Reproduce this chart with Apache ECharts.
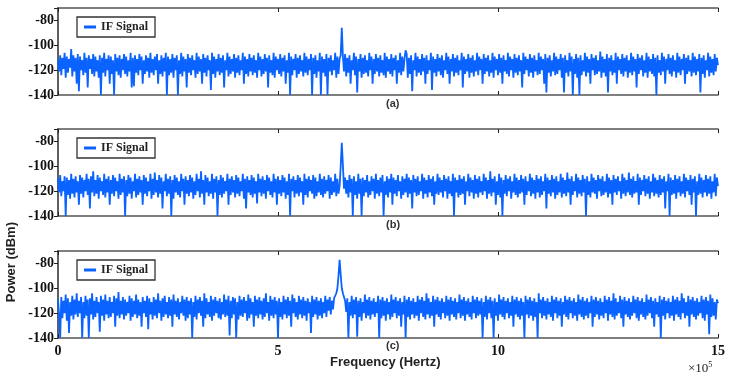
<!DOCTYPE html>
<html lang="en">
<head>
    <meta charset="UTF-8">
    <title>IF Signal spectrum</title>
    <script src="https://cdn.jsdelivr.net/npm/echarts@6/dist/echarts.min.js"></script>
    <style>
        html, body { margin: 0; padding: 0; background: #fff; }
    </style>
</head>
<body>
<div id="main" style="width: 730px;height:379px;"></div>
<script>
    // frequency grid: one sample every 0.025 (x10^5 Hz), 0 .. 15
    var freqStep = 0.025;
    var xTicks = [0, 5, 10, 15];
    var yTicks = [-140, -120, -100, -80];
    var captions = ['(a)', '(b)', '(c)'];

    // power (dBm)
    var powerA = [
        -112,-121,-108,-124,-110,-119,-106,-126,-109,-122,-111,-118,-103,-125,-108,-121,-110,-131,-107,-137,
        -109,-120,-112,-124,-106,-122,-110,-134,-108,-119,-111,-123,-107,-125,-109,-121,-112,-126,-108,-140,
        -110,-122,-106,-125,-111,-120,-108,-131,-109,-123,-112,-140,-107,-121,-110,-124,-108,-126,-111,-120,
        -107,-123,-109,-125,-112,-121,-106,-134,-110,-133,-108,-122,-111,-124,-107,-120,-109,-131,-112,-123,
        -108,-121,-110,-126,-106,-122,-111,-124,-109,-120,-107,-131,-112,-123,-108,-125,-110,-121,-106,-140,
        -109,-124,-111,-122,-107,-126,-110,-120,-108,-140,-112,-123,-106,-125,-109,-121,-111,-134,-107,-122,
        -110,-124,-108,-120,-112,-126,-106,-123,-109,-121,-111,-131,-107,-122,-110,-125,-108,-120,-112,-136,
        -106,-123,-109,-126,-111,-121,-107,-124,-110,-122,-108,-134,-112,-120,-106,-125,-109,-123,-111,-121,
        -107,-126,-110,-122,-108,-124,-112,-120,-106,-131,-109,-123,-111,-125,-107,-121,-110,-124,-108,-122,
        -112,-126,-106,-120,-109,-125,-111,-123,-107,-121,-110,-134,-108,-122,-112,-124,-106,-126,-109,-120,
        -111,-123,-107,-125,-110,-121,-108,-131,-112,-122,-106,-140,-109,-124,-111,-120,-107,-126,-110,-123,
        -108,-121,-112,-125,-106,-122,-109,-124,-111,-120,-107,-140,-110,-123,-108,-126,-112,-121,-106,-140,
        -109,-122,-111,-125,-107,-140,-110,-121,-108,-124,-112,-120,-106,-126,-109,-123,-111,-108,-86,-109,
        -121,-107,-125,-110,-122,-108,-131,-112,-120,-106,-124,-109,-138,-111,-121,-107,-126,-110,-123,-108,
        -122,-112,-125,-106,-120,-109,-131,-111,-123,-107,-121,-110,-125,-108,-122,-112,-124,-106,-126,-109,
        -121,-111,-123,-107,-125,-110,-120,-108,-131,-112,-122,-106,-124,-109,-121,-111,-104,-107,-126,-110,
        -123,-108,-137,-112,-120,-106,-125,-109,-122,-111,-124,-107,-121,-110,-131,-108,-123,-112,-120,-106,
        -136,-109,-122,-111,-125,-107,-121,-110,-124,-108,-126,-112,-120,-106,-123,-109,-131,-111,-121,-107,
        -125,-110,-122,-108,-124,-112,-120,-106,-134,-109,-123,-111,-121,-107,-126,-110,-122,-108,-125,-112,
        -121,-106,-124,-109,-120,-111,-131,-107,-123,-110,-121,-108,-125,-112,-122,-106,-126,-109,-120,-111,
        -124,-107,-122,-110,-131,-108,-121,-112,-123,-106,-125,-109,-120,-111,-126,-107,-122,-110,-124,-108,
        -121,-112,-134,-106,-123,-109,-120,-111,-125,-107,-122,-110,-126,-108,-121,-112,-124,-106,-123,-109,
        -120,-111,-131,-107,-138,-110,-122,-108,-125,-112,-121,-106,-124,-109,-123,-111,-120,-107,-126,-110,
        -138,-108,-122,-112,-125,-106,-121,-109,-140,-111,-123,-107,-126,-110,-140,-108,-124,-112,-121,-106,
        -125,-109,-122,-111,-131,-107,-120,-110,-124,-108,-123,-112,-121,-105,-126,-109,-122,-111,-125,-107,
        -138,-110,-121,-108,-124,-112,-122,-106,-131,-109,-120,-111,-123,-107,-125,-110,-121,-108,-126,-112,
        -122,-106,-124,-109,-121,-111,-134,-107,-123,-110,-120,-108,-125,-112,-122,-106,-126,-109,-121,-111,
        -123,-107,-125,-110,-140,-108,-122,-112,-124,-106,-121,-109,-131,-111,-120,-107,-123,-110,-125,-108,
        -121,-112,-126,-106,-122,-109,-124,-111,-120,-107,-131,-110,-123,-108,-121,-112,-125,-106,-122,-109,
        -124,-111,-121,-107,-138,-110,-123,-108,-126,-112,-120,-106,-125,-109,-122,-111,-124,-107,-121,-110,
        -116
    ];

    // power (dBm)
    var powerB = [
        -110,-121,-107,-124,-112,-120,-108,-140,-109,-123,-111,-126,-106,-122,-110,-125,-108,-121,-112,-131,
        -107,-122,-109,-125,-111,-120,-106,-123,-110,-134,-108,-121,-104,-124,-111,-122,-107,-126,-109,-120,
        -112,-123,-106,-125,-110,-121,-108,-131,-111,-122,-107,-124,-109,-120,-112,-126,-106,-123,-110,-121,
        -108,-140,-111,-124,-107,-122,-109,-126,-112,-120,-106,-125,-110,-123,-108,-121,-111,-131,-107,-122,
        -109,-124,-112,-120,-106,-126,-110,-123,-105,-121,-111,-125,-107,-122,-109,-134,-112,-120,-106,-124,
        -110,-122,-108,-140,-111,-126,-107,-121,-109,-123,-112,-125,-106,-120,-110,-131,-108,-122,-111,-124,
        -107,-121,-109,-126,-112,-123,-106,-120,-110,-125,-104,-122,-111,-131,-107,-121,-109,-124,-112,-122,
        -106,-126,-110,-121,-108,-140,-111,-123,-107,-125,-109,-122,-112,-120,-106,-131,-110,-123,-108,-121,
        -111,-125,-107,-122,-109,-124,-112,-120,-106,-126,-110,-134,-108,-121,-111,-123,-107,-125,-109,-122,
        -112,-130,-106,-121,-110,-124,-108,-122,-111,-126,-107,-120,-109,-123,-112,-125,-106,-121,-110,-131,
        -108,-122,-111,-124,-107,-121,-109,-126,-112,-123,-106,-140,-110,-120,-108,-125,-111,-122,-107,-124,
        -109,-121,-112,-131,-106,-123,-110,-125,-108,-120,-111,-122,-107,-126,-109,-124,-112,-121,-106,-123,
        -110,-125,-108,-122,-111,-120,-107,-126,-109,-123,-112,-121,-106,-124,-110,-122,-116,-100,-81,-99,
        -118,-109,-122,-111,-125,-107,-121,-110,-140,-108,-123,-112,-126,-106,-122,-110,-140,-109,-124,-111,
        -121,-107,-125,-112,-123,-108,-120,-110,-126,-106,-122,-111,-124,-109,-121,-107,-140,-112,-123,-108,
        -125,-110,-121,-106,-131,-109,-122,-111,-124,-107,-120,-112,-126,-108,-123,-110,-121,-106,-125,-109,
        -122,-111,-134,-107,-121,-110,-124,-108,-123,-112,-120,-106,-126,-109,-122,-111,-125,-107,-121,-110,
        -124,-108,-131,-112,-122,-106,-123,-109,-121,-111,-125,-107,-120,-110,-126,-108,-122,-112,-124,-106,
        -140,-109,-121,-111,-125,-107,-123,-110,-122,-108,-131,-112,-120,-106,-124,-109,-121,-111,-126,-107,
        -122,-110,-125,-108,-121,-112,-123,-106,-120,-109,-126,-111,-122,-104,-124,-110,-121,-108,-131,-112,
        -123,-106,-125,-109,-140,-111,-122,-107,-124,-110,-120,-108,-126,-112,-121,-106,-123,-109,-125,-111,
        -122,-107,-121,-110,-131,-108,-123,-112,-120,-106,-124,-109,-122,-111,-126,-107,-121,-110,-125,-108,
        -123,-112,-120,-106,-134,-109,-122,-111,-124,-107,-121,-110,-126,-108,-123,-112,-121,-106,-125,-109,
        -122,-111,-124,-105,-121,-110,-131,-108,-123,-112,-120,-106,-125,-109,-122,-111,-124,-107,-121,-110,
        -140,-108,-123,-112,-125,-106,-121,-109,-122,-111,-126,-107,-120,-110,-124,-108,-123,-112,-121,-106,
        -125,-109,-122,-111,-131,-107,-121,-110,-123,-108,-120,-112,-126,-106,-122,-109,-124,-111,-121,-105,
        -123,-110,-125,-108,-122,-112,-121,-106,-131,-109,-123,-111,-120,-107,-124,-110,-122,-108,-126,-112,
        -121,-106,-124,-109,-122,-111,-125,-107,-123,-110,-121,-108,-134,-112,-120,-106,-140,-109,-123,-111,
        -122,-107,-126,-110,-121,-108,-124,-112,-122,-106,-125,-109,-120,-111,-123,-107,-131,-110,-121,-108,
        -140,-112,-123,-106,-122,-109,-125,-111,-121,-107,-124,-110,-122,-108,-126,-112,-121,-106,-124,-109,
        -116
    ];

    // power (dBm)
    var powerC = [
        -109,-121,-140,-107,-124,-110,-120,-105,-126,-108,-136,-111,-122,-106,-125,-109,-121,-104,-123,-110,
        -120,-107,-140,-111,-124,-106,-122,-109,-140,-108,-121,-104,-125,-110,-123,-107,-120,-111,-135,-106,
        -122,-109,-126,-105,-121,-110,-124,-107,-123,-111,-120,-106,-131,-108,-122,-103,-124,-110,-121,-107,
        -125,-109,-122,-111,-120,-106,-126,-108,-123,-110,-121,-105,-124,-109,-122,-111,-131,-107,-120,-110,
        -123,-106,-133,-108,-121,-111,-125,-107,-122,-109,-124,-104,-120,-110,-126,-108,-123,-106,-121,-111,
        -124,-107,-122,-109,-131,-105,-121,-110,-123,-108,-125,-111,-120,-106,-122,-109,-126,-107,-124,-110,
        -121,-108,-140,-111,-123,-106,-125,-109,-120,-107,-122,-110,-131,-104,-124,-108,-121,-111,-123,-106,
        -126,-109,-122,-107,-120,-110,-124,-108,-125,-111,-121,-105,-123,-109,-122,-106,-138,-110,-124,-107,
        -121,-108,-140,-111,-125,-106,-122,-109,-123,-107,-120,-110,-126,-105,-124,-108,-121,-111,-131,-106,
        -122,-109,-124,-107,-121,-110,-125,-108,-123,-104,-120,-111,-126,-106,-122,-109,-124,-107,-121,-110,
        -140,-108,-123,-111,-125,-106,-121,-109,-124,-107,-122,-110,-131,-105,-120,-108,-123,-111,-125,-106,
        -121,-109,-124,-107,-122,-110,-126,-108,-120,-111,-136,-106,-123,-109,-121,-107,-125,-110,-122,-108,
        -124,-111,-120,-106,-123,-109,-118,-107,-121,-110,-117,-108,-106,-104,-100,-90,-77,-89,-100,-104,
        -107,-110,-119,-108,-140,-111,-122,-106,-124,-109,-121,-107,-139,-110,-123,-108,-126,-111,-120,-105,
        -124,-109,-122,-107,-125,-110,-121,-108,-123,-111,-120,-106,-140,-109,-124,-107,-122,-110,-126,-108,
        -121,-111,-125,-105,-123,-109,-120,-107,-124,-110,-122,-108,-131,-111,-121,-106,-140,-109,-123,-107,
        -125,-110,-121,-108,-124,-111,-122,-106,-126,-109,-120,-107,-123,-110,-125,-104,-121,-108,-124,-111,
        -122,-106,-131,-109,-121,-107,-123,-110,-125,-108,-120,-111,-124,-106,-122,-109,-126,-107,-121,-110,
        -123,-108,-125,-111,-120,-105,-124,-109,-122,-107,-126,-110,-121,-108,-123,-111,-125,-106,-120,-109,
        -124,-107,-122,-110,-121,-108,-140,-111,-123,-106,-125,-109,-120,-107,-124,-110,-140,-108,-122,-111,
        -126,-105,-121,-109,-123,-107,-125,-110,-120,-108,-124,-111,-122,-106,-131,-109,-121,-107,-123,-110,
        -125,-108,-122,-111,-140,-106,-121,-109,-124,-107,-122,-110,-126,-108,-123,-111,-140,-104,-120,-109,
        -124,-107,-122,-110,-125,-108,-121,-111,-123,-106,-126,-109,-120,-107,-124,-110,-122,-108,-131,-111,
        -121,-106,-123,-109,-125,-107,-120,-110,-124,-108,-122,-111,-126,-105,-121,-109,-123,-107,-125,-110,
        -122,-108,-124,-111,-120,-106,-131,-109,-123,-107,-121,-110,-125,-108,-122,-111,-124,-106,-120,-109,
        -126,-107,-121,-110,-123,-104,-125,-108,-122,-111,-120,-106,-124,-109,-131,-107,-121,-110,-123,-108,
        -125,-111,-122,-106,-120,-109,-124,-107,-126,-110,-121,-108,-123,-111,-125,-105,-122,-109,-120,-107,
        -124,-110,-131,-108,-121,-111,-123,-106,-140,-109,-122,-107,-125,-110,-120,-108,-124,-111,-122,-106,
        -126,-109,-121,-107,-123,-110,-125,-104,-120,-108,-124,-111,-122,-106,-131,-109,-121,-107,-123,-110,
        -125,-108,-122,-111,-120,-106,-124,-109,-126,-107,-121,-110,-137,-105,-123,-108,-122,-111,-125,-109,
        -112
    ];

    var panels = [powerA, powerB, powerC];
    var gridTops = [8, 129, 251];
    var plotH = 87;
    var lineColor = '#0a62ff';
    var frameColor = '#555';
    var serif = '"Liberation Serif", "DejaVu Serif", serif';
    var sans = '"Liberation Sans", Arial, sans-serif';

    function toPairs(arr) {
        var out = [];
        for (var i = 0; i < arr.length; i++) {
            out.push([+(i * freqStep).toFixed(3), arr[i]]);
        }
        return out;
    }

    var grid = [], xAxis = [], yAxis = [], series = [], legend = [], graphic = [];
    panels.forEach(function (vals, k) {
        grid.push({left: 58, width: 660, top: gridTops[k], height: plotH});
        var line = {show: true, lineStyle: {color: frameColor, width: 1.5}};
        // bottom x axis
        xAxis.push({
            type: 'value', gridIndex: k, min: xTicks[0], max: xTicks[xTicks.length - 1], interval: 5,
            position: 'bottom', axisLine: line,
            axisTick: {inside: true, length: 4, lineStyle: {color: '#222'}},
            axisLabel: {
                show: k === 2, margin: 6, color: '#111',
                fontFamily: serif, fontWeight: 'bold', fontSize: 14
            },
            splitLine: {show: false}
        });
        // top x axis (frame + ticks only)
        xAxis.push({
            type: 'value', gridIndex: k, min: 0, max: 15, interval: 5,
            position: 'top', axisLine: line,
            axisTick: {inside: true, length: 4, lineStyle: {color: '#222'}},
            axisLabel: {show: false}, splitLine: {show: false}
        });
        yAxis.push({
            type: 'value', gridIndex: k, min: yTicks[0], max: -70, interval: 20,
            position: 'left', axisLine: line,
            axisTick: {inside: false, length: 3, lineStyle: {color: '#222'}},
            axisLabel: {
                margin: 4, color: '#111', fontFamily: serif, fontWeight: 'bold', fontSize: 14,
                formatter: function (v) { return yTicks.indexOf(v) >= 0 ? String(v) : ''; }
            },
            splitLine: {show: false}
        });
        yAxis.push({
            type: 'value', gridIndex: k, min: -140, max: -70, interval: 20,
            position: 'right', axisLine: line,
            axisTick: {inside: true, length: 4, lineStyle: {color: '#222'}},
            axisLabel: {show: false}, splitLine: {show: false}
        });
        series.push({
            name: 'IF Signal', type: 'line',
            xAxisIndex: 2 * k, yAxisIndex: 2 * k,
            data: toPairs(vals),
            showSymbol: false, sampling: null,
            lineStyle: {color: lineColor, width: 1.8},
            itemStyle: {color: lineColor},
            z: 1
        });
        legend.push({
            left: 77, top: gridTops[k] + 9,
            data: [{name: 'IF Signal', icon: 'rect'}],
            itemWidth: 12, itemHeight: 3, itemGap: 4,
            padding: [4, 7, 4, 7],
            borderColor: '#333', borderWidth: 1.3, backgroundColor: '#fff',
            selectedMode: false,
            textStyle: {fontFamily: serif, fontWeight: 'bold', fontSize: 12, color: '#222'}
        });
        graphic.push({
            type: 'text', left: 386, top: [98, 219, 340][k],
            style: {text: captions[k], font: 'bold 11px ' + sans, fill: '#333'}
        });
    });

    graphic.push({
        type: 'text', left: 330, top: 356,
        style: {text: 'Frequency (Hertz)', font: 'bold 13px ' + sans, fill: '#222'}
    });
    graphic.push({
        type: 'text', left: 5, top: 222, rotation: Math.PI / 2,
        style: {text: 'Power (dBm)', font: 'bold 13px ' + sans, fill: '#222'}
    });
    graphic.push({
        type: 'text', left: 688, top: 361,
        style: {
            text: '×10{s|5}', fill: '#222', font: '13px ' + serif,
            rich: {s: {fontSize: 8, verticalAlign: 'top', padding: [0, 0, 7, 0], fontFamily: serif}}
        }
    });

    var option = {
        animation: false,
        backgroundColor: '#fff',
        grid: grid,
        xAxis: xAxis,
        yAxis: yAxis,
        legend: legend,
        series: series,
        graphic: graphic
    };
    var myChart = echarts.init(document.getElementById('main'));
    myChart.setOption(option);
</script>
</body>
</html>
